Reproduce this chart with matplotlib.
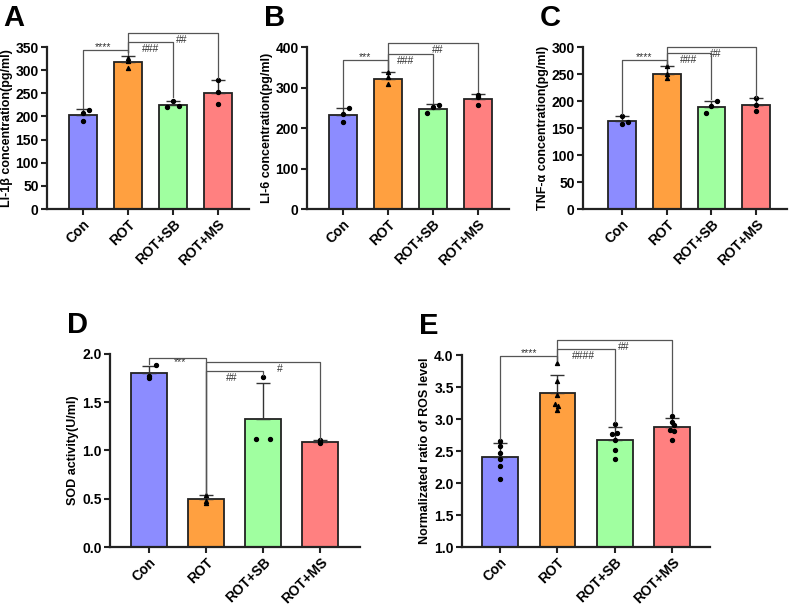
import numpy as np
import matplotlib.pyplot as plt

plt.rcParams['font.family'] = ['Liberation Sans', 'DejaVu Sans']
plt.rcParams['font.weight'] = 'bold'

groups = ['Con', 'ROT', 'ROT+SB', 'ROT+MS']
colors = ['#8c8cff', '#ffa040', '#a0ffa0', '#ff8080']

# panel A: IL-1b
a_mean = [203, 318, 225, 251]
a_err = [13, 12, 8, 27]
a_pts = [[190, 207, 215], [305, 320, 326], [220, 233, 222], [227, 252, 278]]

# panel B: IL-6
b_mean = [233, 321, 248, 271]
b_err = [16, 17, 11, 13]
b_pts = [[216, 235, 249], [310, 325, 338], [237, 252, 256], [257, 277, 282]]

# panel C: TNF-a
c_mean = [163, 251, 189, 192]
c_err = [9, 13, 12, 13]
c_pts = [[157, 172, 161], [243, 250, 264], [178, 190, 201], [181, 192, 205]]

# panel D: SOD
d_mean = [1.80, 0.50, 1.33, 1.09]
d_err = [0.08, 0.04, 0.37, 0.02]
d_pts = [[1.75, 1.77, 1.89], [0.46, 0.48, 0.54], [1.12, 1.76, 1.12], [1.08, 1.09, 1.11]]

# panel E: ROS
e_mean = [2.41, 3.41, 2.67, 2.87]
e_err = [0.22, 0.28, 0.21, 0.14]
e_pts = [[2.65, 2.58, 2.47, 2.37, 2.26, 2.07],
         [3.87, 3.59, 3.38, 3.24, 3.21, 3.14],
         [2.92, 2.78, 2.77, 2.67, 2.52, 2.37],
         [3.05, 2.96, 2.90, 2.83, 2.82, 2.67]]

jit3 = [[0, 0, 0.13], [0, 0, 0], [-0.13, 0, 0.13], [0, 0, 0]]
jit6 = [[0, 0, 0, 0, 0, 0], [0, 0, 0, -0.04, 0.02, 0],
        [0, 0.04, -0.04, 0, 0, 0], [0, 0, 0.04, -0.04, 0.03, 0]]

fig = plt.figure(figsize=(7.89, 6.08), dpi=100)


def panel(rect, mean, err, pts, jit, ylim, yticks, ylabel, letter, xlim, fmt='%d'):
    ax = fig.add_axes(rect)
    x = np.arange(len(groups))
    ax.bar(x, mean, width=0.62, color=colors, edgecolor='#222222', linewidth=1.3, zorder=2)
    ax.errorbar(x, mean, yerr=[np.zeros(4), err], fmt='none', ecolor='#333333',
                elinewidth=1.0, capsize=5, capthick=1.0, zorder=3)
    for i, p in enumerate(pts):
        m = '^' if i == 1 else 'o'
        ax.scatter(np.array(jit[i]) + i, p, s=8, marker=m, color='black', zorder=4, clip_on=False)
    ax.set_xlim(*xlim)
    ax.set_ylim(*ylim)
    ax.set_yticks(yticks)
    ax.yaxis.set_major_formatter(plt.FormatStrFormatter(fmt))
    ax.set_xticks(x)
    ax.set_xticklabels(groups, rotation=45, ha='right', rotation_mode='anchor')
    ax.tick_params(labelsize=10, width=1.5, length=4, pad=2, color='#222222')
    ax.set_ylabel(ylabel, fontsize=9, fontweight='bold', labelpad=2)
    for s in ['top', 'right']:
        ax.spines[s].set_visible(False)
    for s in ['left', 'bottom']:
        ax.spines[s].set_linewidth(1.6)
        ax.spines[s].set_color('#222222')
    fig.text(rect[0] - 0.055, rect[1] + rect[3] + 0.025, letter, fontsize=21,
             fontweight='bold', va='bottom', ha='left')
    return ax


def bracket(ax, i, j, y, yi, yj, label, tx, dy):
    ax.plot([i, i, j, j], [yi, y, y, yj], color='#555555', lw=0.9, clip_on=False, zorder=5)
    ax.annotate(label, (tx, y), xytext=(0, dy), textcoords='offset points',
                ha='center', va='center', fontsize=7.5, color='#333333',
                fontweight='normal', annotation_clip=False)


ax = panel([0.0596, 0.6562, 0.256, 0.2664], a_mean, a_err, a_pts, jit3,
           (0, 350), range(0, 351, 50), 'LI-1β concentration(pg/ml)', 'A', (-0.8, 3.69))
bracket(ax, 0, 1, 343, 218, 333, '****', 0.45, 2)
bracket(ax, 1, 3, 380, 340, 283, '##', 2.2, -5)
bracket(ax, 1, 2, 360, 340, 242, '###', 1.5, -5)

ax = panel([0.3891, 0.6562, 0.256, 0.2664], b_mean, b_err, b_pts, jit3,
           (0, 400), range(0, 401, 100), 'LI-6 concentration(pg/ml)', 'B', (-0.8, 3.69))
bracket(ax, 0, 1, 368, 252, 345, '***', 0.5, 2)
bracket(ax, 1, 3, 410, 345, 288, '##', 2.1, -5)
bracket(ax, 1, 2, 383, 345, 262, '###', 1.4, -5)

ax = panel([0.7389, 0.6562, 0.2586, 0.2664], c_mean, c_err, c_pts, jit3,
           (0, 300), range(0, 301, 50), 'TNF-α concentration(pg/ml)', 'C', (-0.87, 3.69))
bracket(ax, 0, 1, 276, 176, 268, '****', 0.5, 2)
bracket(ax, 1, 3, 300, 268, 208, '##', 2.1, -5)
bracket(ax, 1, 2, 289, 268, 204, '###', 1.5, -5)

ax = panel([0.1394, 0.1003, 0.3169, 0.3175], d_mean, d_err, d_pts, jit3,
           (0, 2.0), np.arange(0, 2.01, 0.5), 'SOD activity(U/ml)', 'D', (-0.68, 3.7), '%.1f')
bracket(ax, 0, 1, 1.96, 1.90, 0.56, '***', 0.55, -3)
bracket(ax, 1, 3, 1.92, 0.56, 1.12, '#', 2.3, -5)
bracket(ax, 1, 2, 1.82, 0.56, 1.78, '##', 1.45, -5)

ax = panel([0.5856, 0.1003, 0.3143, 0.3158], e_mean, e_err, e_pts, jit6,
           (1.0, 4.0), np.arange(1.0, 4.01, 0.5), 'Normalizated ratio of ROS level', 'E', (-0.66, 3.66), '%.1f')
bracket(ax, 0, 1, 3.98, 2.68, 3.92, '****', 0.5, 2)
bracket(ax, 1, 3, 4.24, 3.92, 3.09, '##', 2.15, -5)
bracket(ax, 1, 2, 4.09, 3.92, 2.96, '####', 1.45, -5)

fig.savefig('out.png', dpi=100)
